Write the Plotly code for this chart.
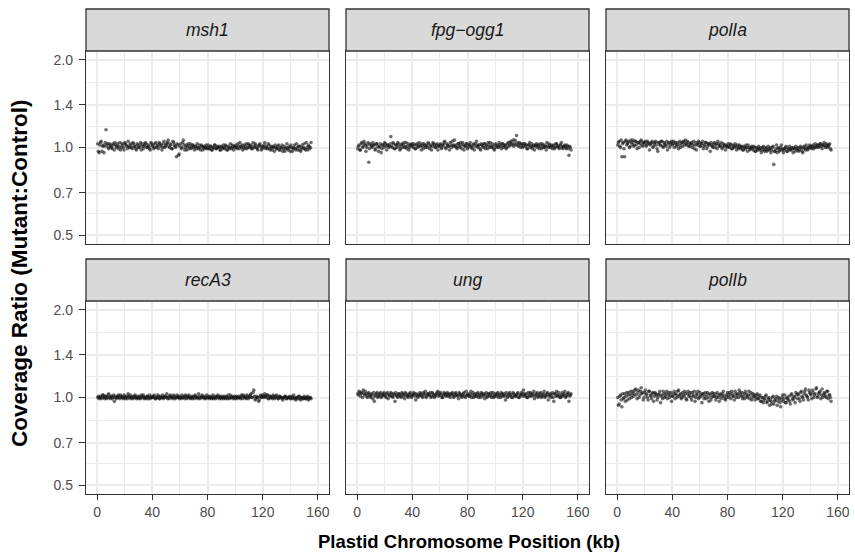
import math
import plotly.graph_objects as go

# ---------------- data (coverage ratio, 0.5-kb steps; "a" windows at k+0.5 kb, "b" windows at k+1.0 kb) ----------------
genes = ["msh1", "fpg\u2212ogg1", "polIa", "recA3", "ung", "polIb"]

msh1_a = [
    1.03, 0.96, 1.04, 0.97, 1.02, 1.01, 1.15, 1.03, 0.99, 1.02,
    1.00, 1.03, 0.98, 1.02, 1.01, 0.99, 1.04, 1.00, 1.02, 0.98,
    1.03, 1.01, 1.05, 1.00, 1.02, 0.99, 1.03, 1.01, 0.98, 1.02,
    1.00, 1.04, 1.01, 0.99, 1.02, 1.03, 1.00, 1.01, 0.98, 1.03,
    1.02, 1.00, 1.04, 1.01, 0.99, 1.03, 1.02, 1.00, 1.05, 1.01,
    1.03, 1.06, 1.00, 1.02, 0.99, 1.04, 1.01, 0.93, 1.02, 0.95,
    1.03, 1.00, 1.06, 0.98, 1.02, 1.01, 0.99, 1.03, 1.00, 1.02,
    0.98, 1.01, 1.03, 0.99, 1.00, 1.02, 0.98, 1.01, 1.00, 0.99,
    1.02, 0.99, 1.01, 0.98, 1.00, 1.02, 0.99, 1.00, 1.01, 0.98,
    1.00, 1.02, 0.99, 1.01, 0.98, 1.00, 1.03, 0.99, 1.01, 1.00,
    1.02, 0.99, 1.01, 1.04, 1.00, 0.98, 1.02, 1.01, 0.99, 1.03,
    1.00, 1.02, 0.99, 1.01, 1.03, 1.00, 0.98, 1.02, 1.01, 0.99,
    1.00, 1.04, 1.01, 0.99, 1.02, 0.98, 1.00, 1.01, 0.97, 1.00,
    0.99, 1.02, 0.98, 1.00, 0.97, 1.01, 0.99, 1.03, 0.98, 1.00,
    1.02, 0.97, 1.00, 0.99, 1.03, 0.98, 1.01, 0.97, 1.02, 1.00,
    0.99, 1.04, 0.98, 1.01, 1.00,
]
msh1_b = [
    0.97, 1.02, 1.05, 1.01, 0.96, 1.04, 1.02, 1.00, 1.03, 1.01,
    0.99, 1.02, 1.04, 1.00, 1.03, 1.01, 0.98, 1.03, 1.00, 1.04,
    1.02, 0.99, 1.01, 1.03, 1.00, 1.04, 1.01, 0.99, 1.03, 1.00,
    1.02, 0.98, 1.03, 1.01, 1.04, 1.00, 1.02, 0.99, 1.04, 1.01,
    0.99, 1.03, 1.00, 1.02, 1.04, 1.01, 0.98, 1.03, 1.00, 1.02,
    1.04, 1.01, 1.03, 0.99, 1.05, 1.02, 1.00, 1.03, 0.94, 1.01,
    0.99, 1.04, 1.02, 1.00, 0.98, 1.03, 1.01, 0.99, 1.02, 1.00,
    1.01, 0.99, 1.00, 1.02, 0.98, 1.01, 1.00, 0.99, 1.02, 1.00,
    0.99, 1.01, 0.98, 1.00, 1.02, 0.99, 1.01, 1.00, 0.98, 1.01,
    0.99, 1.00, 1.02, 0.98, 1.01, 0.99, 1.00, 1.02, 0.98, 1.01,
    1.00, 1.03, 0.99, 1.01, 1.02, 1.00, 0.99, 1.03, 1.00, 1.02,
    1.01, 0.99, 1.04, 1.00, 1.02, 0.99, 1.01, 1.03, 0.98, 1.01,
    1.02, 0.99, 1.00, 1.03, 0.99, 1.01, 0.98, 1.00, 1.02, 0.99,
    1.01, 0.98, 1.00, 1.02, 0.99, 0.97, 1.00, 0.99, 1.01, 0.97,
    1.00, 0.99, 1.02, 0.98, 1.00, 1.01, 0.98, 1.00, 0.99, 1.03,
    0.98, 1.00, 1.02, 0.99, 1.04,
]

fpg_ogg1_a = [
    0.99, 1.02, 0.98, 1.04, 1.01, 1.03, 0.97, 1.02, 0.89, 1.03,
    1.01, 1.04, 1.02, 0.99, 1.03, 0.97, 1.01, 0.96, 1.02, 1.00,
    1.03, 0.98, 1.02, 1.01, 1.09, 1.00, 1.03, 0.99, 1.02, 1.04,
    1.01, 0.99, 1.03, 1.02, 1.00, 1.04, 1.01, 0.98, 1.02, 1.03,
    1.00, 1.02, 0.99, 1.03, 1.01, 1.02, 0.98, 1.01, 1.03, 1.00,
    1.02, 1.04, 0.99, 1.02, 1.01, 1.03, 1.00, 1.02, 0.98, 1.01,
    1.03, 1.00, 1.02, 1.05, 0.99, 1.02, 1.01, 1.04, 1.00, 1.02,
    1.06, 1.01, 0.99, 1.03, 1.00, 1.02, 1.04, 0.98, 1.01, 1.03,
    1.00, 1.02, 1.01, 0.99, 1.03, 1.01, 1.05, 1.00, 1.02, 0.98,
    1.02, 1.00, 1.03, 1.01, 0.99, 1.02, 1.04, 1.00, 1.01, 0.98,
    1.03, 1.01, 1.00, 1.02, 0.99, 1.03, 1.01, 1.02, 1.00, 1.04,
    1.02, 1.05, 1.03, 1.01, 1.06, 1.10, 1.02, 1.04, 1.00, 1.03,
    1.01, 1.03, 1.02, 0.99, 1.02, 1.00, 1.03, 1.01, 0.98, 1.02,
    1.00, 1.01, 1.03, 0.99, 1.02, 1.00, 1.01, 1.04, 1.00, 1.02,
    1.01, 0.99, 1.02, 1.00, 1.03, 1.01, 0.99, 1.02, 1.00, 1.01,
    1.02, 0.99, 1.01, 0.94, 1.00,
]
fpg_ogg1_b = [
    1.01, 0.98, 1.03, 1.00, 1.05, 1.02, 1.00, 1.04, 0.99, 1.02,
    1.00, 1.02, 0.98, 1.03, 1.01, 1.00, 1.03, 0.99, 1.02, 1.04,
    1.01, 1.02, 1.00, 1.03, 1.01, 1.04, 0.99, 1.02, 1.00, 1.03,
    0.98, 1.02, 1.00, 1.04, 1.01, 0.99, 1.03, 1.00, 1.02, 1.01,
    1.03, 0.99, 1.02, 1.00, 1.04, 1.01, 1.03, 0.99, 1.02, 1.01,
    1.00, 1.03, 1.01, 0.98, 1.04, 1.02, 1.00, 1.03, 1.01, 1.02,
    0.99, 1.02, 1.04, 1.00, 1.03, 1.01, 0.98, 1.02, 1.05, 1.01,
    1.02, 1.00, 1.03, 1.01, 1.04, 0.99, 1.02, 1.01, 1.03, 0.99,
    1.02, 1.04, 1.00, 1.02, 0.98, 1.03, 1.01, 1.02, 0.99, 1.03,
    1.01, 1.03, 0.99, 1.02, 1.04, 1.00, 1.01, 1.03, 0.99, 1.02,
    1.00, 1.02, 1.04, 1.01, 1.03, 1.00, 1.02, 0.99, 1.03, 1.01,
    1.04, 1.02, 1.06, 1.03, 1.02, 1.04, 1.01, 1.03, 1.02, 1.00,
    1.03, 1.01, 0.99, 1.02, 1.04, 1.01, 0.99, 1.02, 1.01, 1.03,
    1.02, 0.99, 1.01, 1.03, 1.00, 1.02, 0.98, 1.01, 1.03, 1.00,
    1.02, 1.01, 0.99, 1.03, 1.01, 1.00, 1.02, 1.04, 0.99, 1.01,
    1.00, 1.02, 0.99, 1.01, 0.98,
]

polIa_a = [
    1.02, 1.05, 1.00, 0.93, 1.04, 0.93, 1.06, 1.03, 1.05, 1.01,
    1.04, 1.06, 1.02, 1.05, 0.99, 1.04, 1.03, 1.06, 1.01, 1.04,
    1.05, 1.02, 1.04, 0.98, 1.03, 1.05, 1.01, 1.04, 1.02, 0.97,
    1.04, 1.02, 1.05, 1.00, 1.03, 1.01, 0.98, 1.04, 1.02, 1.05,
    1.03, 1.00, 1.04, 1.02, 0.99, 1.05, 1.03, 1.01, 1.04, 1.06,
    1.02, 1.04, 1.01, 1.03, 1.00, 1.05, 1.02, 0.98, 1.03, 1.04,
    1.01, 1.03, 0.99, 1.02, 1.04, 1.01, 1.03, 0.97, 1.02, 1.00,
    1.04, 1.02, 0.99, 1.03, 1.01, 1.04, 1.00, 1.02, 0.98, 1.01,
    1.03, 1.00, 1.02, 0.99, 1.01, 1.03, 0.98, 1.00, 1.02, 0.99,
    1.01, 0.98, 1.00, 1.02, 0.97, 1.00, 0.99, 1.01, 0.98, 1.00,
    0.97, 0.99, 1.01, 0.98, 0.96, 1.00, 0.98, 0.99, 0.97, 1.01,
    0.98, 0.96, 1.00, 0.875, 0.97, 1.02, 0.99, 0.97, 1.00, 0.98,
    0.96, 0.99, 1.01, 0.97, 0.99, 0.98, 1.00, 0.96, 0.99, 1.01,
    0.98, 0.97, 1.00, 0.99, 0.96, 1.01, 0.98, 1.00, 0.99, 1.02,
    1.00, 1.01, 0.99, 1.03, 1.00, 1.02, 1.01, 1.03, 0.99, 1.02,
    1.01, 1.03, 1.00, 1.02, 0.99,
]
polIa_b = [
    1.04, 1.01, 1.06, 1.03, 0.99, 1.05, 1.02, 1.04, 1.00, 1.06,
    1.03, 1.01, 1.05, 1.02, 1.04, 1.00, 1.05, 1.02, 1.04, 1.03,
    1.01, 1.05, 1.03, 1.02, 1.04, 1.00, 1.03, 1.05, 0.99, 1.04,
    1.02, 1.05, 1.01, 1.04, 1.02, 1.05, 1.03, 1.00, 1.04, 1.02,
    1.05, 1.03, 1.01, 1.04, 1.02, 1.00, 1.04, 1.05, 1.02, 1.03,
    1.05, 1.01, 1.03, 1.04, 1.02, 0.99, 1.04, 1.02, 1.05, 1.01,
    1.03, 1.05, 1.01, 1.04, 0.99, 1.03, 1.02, 1.04, 1.01, 1.03,
    1.00, 1.03, 1.05, 1.01, 1.02, 0.99, 1.03, 1.01, 1.02, 1.00,
    1.01, 1.03, 0.99, 1.02, 1.00, 1.01, 1.02, 0.99, 1.01, 1.00,
    0.98, 1.01, 0.99, 1.00, 1.02, 0.98, 1.00, 0.99, 1.01, 0.97,
    1.00, 0.98, 0.99, 1.00, 0.98, 1.01, 0.97, 1.00, 0.98, 0.99,
    1.00, 0.98, 1.01, 0.97, 0.99, 0.96, 1.00, 0.98, 1.02, 0.99,
    0.98, 1.00, 0.97, 0.99, 1.01, 0.98, 0.99, 1.00, 0.97, 0.99,
    1.00, 0.98, 1.01, 0.97, 1.00, 0.99, 1.02, 0.98, 1.00, 1.01,
    0.99, 1.02, 1.00, 1.01, 1.02, 1.00, 1.03, 1.01, 1.02, 1.04,
    1.00, 1.02, 1.01, 1.03, 0.98,
]

recA3_a = [
    1.00, 0.99, 1.01, 1.00, 1.02, 0.99, 1.01, 1.00, 1.03, 0.99,
    1.01, 1.00, 0.97, 1.01, 1.00, 1.02, 0.99, 1.01, 1.00, 1.02,
    0.99, 1.01, 1.03, 1.00, 0.99, 1.01, 1.00, 1.02, 0.99, 1.00,
    1.01, 0.99, 1.00, 1.02, 1.00, 0.99, 1.01, 1.00, 0.99, 1.01,
    1.00, 1.02, 0.99, 1.00, 1.01, 0.99, 1.00, 1.02, 1.00, 1.01,
    1.03, 1.00, 0.99, 1.01, 1.00, 1.02, 0.99, 1.00, 1.01, 0.99,
    1.00, 1.02, 1.00, 0.99, 1.01, 1.00, 1.02, 0.99, 1.01, 1.00,
    0.99, 1.01, 1.00, 1.03, 0.99, 1.00, 1.01, 0.99, 1.00, 1.02,
    1.00, 0.99, 1.01, 1.00, 0.99, 1.01, 1.00, 1.02, 0.99, 1.00,
    1.01, 0.99, 1.00, 1.01, 0.99, 1.00, 1.02, 1.00, 0.99, 1.01,
    1.00, 0.99, 1.01, 1.00, 1.02, 0.99, 1.01, 1.00, 1.02, 0.99,
    1.01, 1.03, 1.00, 1.06, 0.98, 1.01, 1.00, 0.98, 1.02, 1.00,
    1.01, 1.03, 1.00, 1.02, 0.99, 1.01, 1.00, 1.02, 0.99, 1.01,
    1.00, 0.99, 1.01, 1.00, 0.98, 1.00, 1.01, 0.99, 1.00, 1.01,
    0.99, 1.00, 1.02, 0.99, 1.00, 0.99, 1.01, 0.98, 1.00, 0.99,
    1.00, 0.99, 1.01, 0.99, 1.00,
]
recA3_b = [
    1.01, 1.00, 0.99, 1.02, 1.00, 1.01, 0.99, 1.02, 1.00, 1.01,
    0.99, 1.02, 1.00, 0.99, 1.01, 1.00, 1.02, 1.00, 0.99, 1.01,
    1.00, 0.99, 1.01, 1.02, 1.00, 0.99, 1.01, 1.00, 1.01, 0.99,
    1.00, 1.02, 1.01, 0.99, 1.00, 1.01, 0.99, 1.02, 1.00, 1.00,
    1.01, 0.99, 1.00, 1.02, 0.99, 1.01, 1.00, 0.99, 1.01, 1.00,
    0.99, 1.01, 1.02, 1.00, 0.99, 1.01, 1.00, 1.02, 1.00, 1.01,
    0.99, 1.00, 1.01, 1.02, 0.99, 1.01, 1.00, 1.00, 0.99, 1.01,
    1.02, 1.00, 0.99, 1.01, 1.00, 1.02, 1.00, 1.01, 0.99, 1.00,
    1.01, 1.00, 0.99, 1.02, 1.00, 0.99, 1.01, 1.00, 1.01, 0.99,
    1.00, 1.01, 0.99, 1.00, 1.02, 0.99, 1.00, 1.01, 1.00, 0.99,
    1.01, 1.00, 1.00, 0.99, 1.01, 1.02, 1.00, 0.99, 1.01, 1.00,
    1.02, 1.00, 1.04, 1.01, 0.99, 1.00, 0.97, 1.01, 1.00, 1.02,
    1.00, 1.01, 1.02, 0.99, 1.01, 1.00, 0.99, 1.01, 1.00, 1.02,
    0.99, 1.01, 1.00, 0.99, 1.00, 1.01, 0.99, 1.00, 1.00, 0.99,
    1.01, 0.99, 1.00, 0.98, 1.00, 1.01, 0.99, 1.00, 0.99, 1.01,
    0.99, 1.00, 0.98, 1.00, 0.99,
]

ung_a = [
    1.03, 1.05, 1.01, 1.04, 1.06, 1.02, 1.03, 1.00, 1.04, 1.01,
    1.03, 0.99, 0.97, 1.02, 1.04, 1.01, 1.03, 1.00, 1.02, 1.04,
    1.01, 1.03, 0.99, 1.02, 1.04, 1.01, 1.03, 0.97, 1.02, 1.00,
    1.03, 1.01, 1.04, 1.02, 0.99, 1.03, 1.01, 1.02, 1.04, 1.00,
    1.02, 1.03, 0.98, 1.02, 1.01, 1.04, 1.02, 1.00, 1.03, 1.05,
    1.01, 1.03, 1.02, 1.00, 1.04, 1.02, 1.01, 1.03, 1.05, 1.02,
    1.04, 1.00, 1.02, 1.03, 1.01, 1.04, 1.02, 1.00, 1.03, 1.02,
    1.01, 1.04, 1.02, 0.99, 1.03, 1.01, 1.02, 1.04, 1.00, 1.02,
    1.03, 1.01, 1.05, 1.02, 1.00, 1.03, 1.01, 1.04, 1.02, 1.00,
    1.03, 1.02, 0.99, 1.04, 1.01, 1.03, 1.02, 1.00, 1.04, 1.01,
    1.02, 1.03, 1.00, 1.02, 1.04, 1.01, 1.03, 0.98, 1.02, 1.01,
    1.04, 1.02, 1.00, 1.03, 1.01, 1.02, 1.04, 1.00, 1.02, 1.03,
    1.06, 1.01, 1.03, 1.00, 1.02, 1.04, 1.01, 1.03, 0.99, 1.02,
    1.04, 1.01, 1.03, 1.00, 1.02, 1.05, 1.01, 1.03, 0.98, 1.02,
    1.00, 1.04, 0.97, 1.03, 1.05, 1.01, 1.02, 1.00, 1.04, 1.02,
    1.05, 1.01, 1.03, 0.97, 1.02,
]
ung_b = [
    1.02, 1.04, 1.03, 1.00, 1.03, 1.05, 1.01, 1.03, 1.02, 1.00,
    1.02, 1.04, 1.01, 1.03, 1.00, 1.02, 1.04, 1.01, 1.03, 1.02,
    1.00, 1.04, 1.02, 1.01, 1.03, 1.00, 1.02, 1.04, 1.01, 1.03,
    1.02, 1.00, 1.03, 1.01, 1.04, 1.02, 1.00, 1.03, 1.01, 1.02,
    1.04, 1.01, 1.03, 1.00, 1.02, 1.03, 1.01, 1.04, 1.02, 1.00,
    1.03, 1.02, 1.04, 1.01, 1.03, 1.00, 1.02, 1.04, 1.01, 1.03,
    1.02, 1.00, 1.04, 1.02, 1.03, 1.01, 1.03, 1.02, 1.04, 1.00,
    1.03, 1.02, 1.01, 1.04, 1.02, 1.00, 1.03, 1.01, 1.05, 1.02,
    1.01, 1.03, 1.00, 1.04, 1.02, 1.01, 1.03, 1.00, 1.02, 1.04,
    1.01, 1.03, 1.02, 1.00, 1.03, 1.01, 1.04, 1.02, 1.00, 1.03,
    1.01, 1.04, 1.02, 1.00, 1.03, 1.02, 1.01, 1.04, 1.00, 1.03,
    1.02, 1.00, 1.04, 1.02, 1.01, 1.03, 1.00, 1.02, 1.04, 1.01,
    1.03, 1.02, 1.00, 1.04, 1.01, 1.03, 1.02, 1.05, 1.01, 1.03,
    1.00, 1.02, 1.04, 1.01, 1.03, 1.00, 1.02, 1.04, 1.01, 1.03,
    1.02, 1.00, 1.03, 1.01, 1.02, 1.04, 1.00, 1.02, 1.01, 1.03,
    1.00, 1.02, 1.04, 1.01, 1.03,
]

polIb_a = [
    1.00, 0.95, 1.02, 0.93, 0.99, 1.03, 1.01, 0.98, 1.04, 1.02,
    1.00, 1.05, 1.03, 1.07, 0.99, 1.06, 1.02, 1.08, 1.04, 1.00,
    1.06, 1.03, 0.98, 1.05, 1.01, 1.03, 0.97, 1.04, 1.02, 1.00,
    1.03, 0.96, 1.02, 1.05, 1.00, 1.03, 0.99, 1.04, 1.02, 0.97,
    1.01, 1.05, 1.03, 1.00, 1.06, 1.02, 0.99, 1.04, 1.01, 1.03,
    0.98, 1.05, 1.02, 1.00, 1.04, 1.01, 0.97, 1.03, 1.05, 1.00,
    1.02, 0.96, 1.03, 1.01, 0.99, 1.04, 0.97, 1.02, 1.00, 1.03,
    1.01, 0.98, 1.04, 1.00, 1.02, 0.99, 1.03, 1.01, 0.98, 1.00,
    1.02, 1.04, 0.99, 1.03, 1.01, 1.05, 1.00, 1.03, 1.06, 1.02,
    1.04, 1.01, 0.99, 1.03, 1.00, 1.05, 1.02, 0.98, 1.03, 1.01,
    1.00, 1.03, 0.99, 1.02, 0.97, 1.00, 0.98, 1.01, 0.96, 0.99,
    0.94, 0.97, 1.00, 0.95, 0.98, 1.01, 0.97, 0.99, 0.93, 1.00,
    0.97, 1.02, 0.96, 0.99, 1.01, 0.95, 1.03, 0.98, 1.00, 1.04,
    0.99, 1.02, 0.97, 1.05, 1.00, 1.03, 1.07, 1.01, 0.98, 1.04,
    1.02, 1.06, 1.00, 1.03, 1.08, 1.01, 1.04, 0.99, 1.07, 1.02,
    1.03, 1.00, 1.05, 1.02, 1.00,
]
polIb_b = [
    0.94, 1.01, 0.98, 1.03, 1.00, 0.97, 1.04, 1.02, 0.99, 1.05,
    1.03, 1.01, 1.06, 1.02, 1.04, 1.00, 1.05, 1.03, 0.98, 1.04,
    1.02, 1.00, 1.05, 1.02, 0.99, 1.04, 1.01, 1.03, 0.98, 1.02,
    1.05, 1.01, 0.99, 1.03, 1.01, 1.05, 1.02, 1.00, 1.04, 1.01,
    1.03, 0.99, 1.02, 1.05, 1.01, 1.03, 1.00, 1.02, 1.05, 0.99,
    1.03, 1.01, 1.04, 0.98, 1.02, 1.05, 1.00, 1.02, 0.99, 1.04,
    1.01, 1.03, 0.99, 1.04, 1.02, 1.00, 1.03, 0.98, 1.04, 1.01,
    1.03, 1.00, 1.02, 0.97, 1.03, 1.01, 1.05, 0.99, 1.02, 1.04,
    1.00, 1.02, 1.05, 1.01, 0.98, 1.03, 1.02, 1.00, 1.04, 1.01,
    0.99, 1.03, 1.05, 1.01, 1.02, 0.99, 1.04, 1.00, 1.02, 0.98,
    1.02, 0.99, 1.01, 0.97, 1.00, 0.96, 0.99, 1.02, 0.97, 1.00,
    0.98, 0.95, 1.01, 0.97, 0.99, 0.94, 1.00, 0.96, 0.98, 1.02,
    0.99, 0.96, 1.00, 0.98, 0.97, 1.02, 0.99, 1.01, 0.96, 1.02,
    1.03, 0.99, 1.04, 1.01, 0.98, 1.05, 1.02, 1.00, 1.06, 1.03,
    0.99, 1.04, 1.02, 1.07, 1.00, 1.03, 1.05, 1.02, 1.00, 1.04,
    1.01, 1.05, 0.99, 1.02, 0.97,
]

series = [
    (msh1_a, msh1_b), (fpg_ogg1_a, fpg_ogg1_b), (polIa_a, polIa_b),
    (recA3_a, recA3_b), (ung_a, ung_b), (polIb_a, polIb_b),
]

x_ticks = [0, 40, 80, 120, 160]
x_minor = [20, 60, 100, 140]
y_ticks = [0.5, 0.7, 1.0, 1.4, 2.0]
y_ticktext = ["0.5", "0.7", "1.0", "1.4", "2.0"]

# ---------------- layout geometry (pixels) ----------------
W, H = 855, 554
cols = [(86, 329), (346, 589), (606, 849)]
plot_rows = [(51, 244), (301, 494)]
strip_rows = [(9, 51), (259, 301)]

FONT = "Liberation Sans, Arial, Helvetica, sans-serif"
GRID = "#ebebeb"
BORDER = "#333333"


def fx(px):
    return px / W


def fy(py):
    return 1 - py / H


x_range = [-8, 168]
l2 = math.log10(2)
y_range = [-1.1 * l2, 1.1 * l2]
y_minor = [math.sqrt(a * b) for a, b in zip(y_ticks[:-1], y_ticks[1:])]

fig = go.Figure()
shapes = []
annotations = []

for i, (name, (va, vb)) in enumerate(zip(genes, series)):
    r, c = divmod(i, 3)
    n = i + 1
    xs = [k + 0.5 for k in range(len(va))] + [k + 1.0 for k in range(len(vb))]
    ys = list(va) + list(vb)
    xa = "x" if n == 1 else f"x{n}"
    ya = "y" if n == 1 else f"y{n}"
    fig.add_trace(go.Scatter(
        x=xs, y=ys, mode="markers", xaxis=xa, yaxis=ya,
        marker=dict(size=3.6, color="rgba(15,15,15,0.6)", line=dict(width=0)),
        showlegend=False, hoverinfo="skip",
    ))
    x0, x1 = cols[c]
    y0, y1 = plot_rows[r]
    bottom = r == 1
    left = c == 0
    fig.layout[f"xaxis{'' if n == 1 else n}"] = dict(
        domain=[fx(x0), fx(x1)], range=x_range, anchor=ya,
        tickvals=x_ticks, ticktext=[str(t) for t in x_ticks],
        showticklabels=bottom, ticks="outside" if bottom else "",
        ticklen=5, tickwidth=1.3, tickcolor=BORDER,
        tickfont=dict(family=FONT, size=14, color="#4d4d4d"),
        showgrid=True, gridcolor=GRID, gridwidth=1.6,
        minor=dict(tickvals=x_minor, showgrid=True, gridcolor=GRID, gridwidth=0.8, ticks=""),
        showline=True, mirror=True, linecolor=BORDER, linewidth=1.3,
        zeroline=False, fixedrange=True,
    )
    fig.layout[f"yaxis{'' if n == 1 else n}"] = dict(
        domain=[fy(y1), fy(y0)], type="log", range=y_range, anchor=xa,
        tickvals=y_ticks, ticktext=y_ticktext,
        showticklabels=left, ticks="outside" if left else "",
        ticklen=6, tickwidth=1.3, tickcolor=BORDER, ticklabelstandoff=3,
        tickfont=dict(family=FONT, size=14, color="#4d4d4d"),
        showgrid=True, gridcolor=GRID, gridwidth=1.6,
        minor=dict(tickvals=y_minor, showgrid=True, gridcolor=GRID, gridwidth=0.8, ticks=""),
        showline=True, mirror=True, linecolor=BORDER, linewidth=1.3,
        zeroline=False, fixedrange=True,
    )
    s0, s1 = strip_rows[r]
    shapes.append(dict(
        type="rect", xref="paper", yref="paper",
        x0=fx(x0), x1=fx(x1), y0=fy(s1), y1=fy(s0),
        fillcolor="#d9d9d9", line=dict(color=BORDER, width=1.3), layer="above",
    ))
    annotations.append(dict(
        xref="paper", yref="paper", x=fx((x0 + x1) / 2), y=fy((s0 + s1) / 2),
        text=f"<i>{name}</i>", showarrow=False, xanchor="center", yanchor="middle",
        font=dict(family=FONT, size=17.5, color="#1a1a1a"),
    ))

annotations.append(dict(
    xref="paper", yref="paper", x=fx(469), y=fy(541),
    text="<b>Plastid Chromosome Position (kb)</b>", showarrow=False,
    xanchor="center", yanchor="middle",
    font=dict(family=FONT, size=18.5, color="#000000"),
))
annotations.append(dict(
    xref="paper", yref="paper", x=fx(19), y=fy(273),
    text="<b>Coverage Ratio (Mutant:Control)</b>", showarrow=False, textangle=-90,
    xanchor="center", yanchor="middle",
    font=dict(family=FONT, size=22.5, color="#000000"),
))

fig.update_layout(
    width=W, height=H, margin=dict(l=0, r=0, t=0, b=0),
    paper_bgcolor="white", plot_bgcolor="white",
    shapes=shapes, annotations=annotations, hovermode=False,
    font=dict(family=FONT),
)

fig.write_html(
    "out.html", include_plotlyjs=True, config={"displayModeBar": False},
    post_script="document.body.style.margin='0px';",
)
